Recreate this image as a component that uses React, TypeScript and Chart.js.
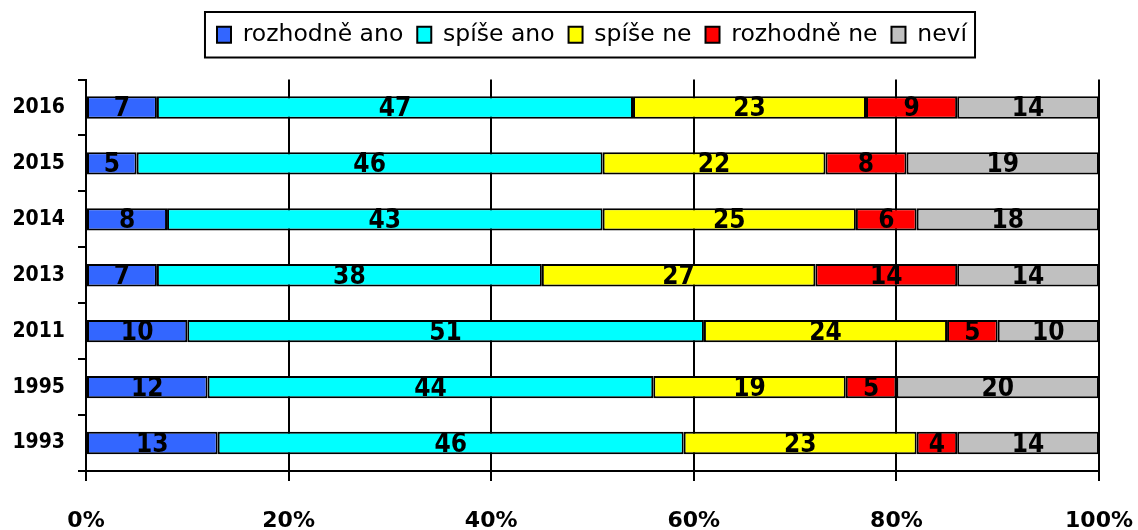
import React, { useEffect, useRef } from "react";
import { Chart, registerables } from "chart.js";

Chart.register(...registerables);

const years = ["2016", "2015", "2014", "2013", "2011", "1995", "1993"];
const seriesNames = ["rozhodně ano", "spíše ano", "spíše ne", "rozhodně ne", "neví"];
const rozhodneAno = [7, 5, 8, 7, 10, 12, 13];
const spiseAno = [47, 46, 43, 38, 51, 44, 46];
const spiseNe = [23, 22, 25, 27, 24, 19, 23];
const rozhodneNe = [9, 8, 6, 14, 5, 5, 4];
const nevi = [14, 19, 18, 14, 10, 20, 14];
const seriesColors = ["#3366FF", "#00FFFF", "#FFFF00", "#FF0000", "#C0C0C0"];
const xTicks = [0, 20, 40, 60, 80, 100];

const LEGEND_CENTER_X = 592;
const TOP_PAD = 32;
const LEGEND_LIFT = 23;

const labelPlugin = {
  id: "barLabels",
  afterDatasetsDraw(chart: any) {
    const ctx = chart.ctx;
    ctx.save();
    ctx.font = "bold 26px 'DejaVu Sans Condensed', 'DejaVu Sans'";
    ctx.fillStyle = "#000";
    ctx.textAlign = "center";
    ctx.textBaseline = "middle";
    chart.data.datasets.forEach((ds: any, di: number) => {
      const meta = chart.getDatasetMeta(di);
      meta.data.forEach((el: any, i: number) => {
        const v = ds.data[i];
        const cx = (el.x + el.base) / 2;
        ctx.fillText(String(v), cx, el.y + 2);
      });
    });
    ctx.restore();
  },
};

const legendPlugin = {
  id: "legendTweak",
  afterLayout(chart: any) {
    const lg = chart.legend;
    if (!lg) return;
    lg.top -= LEGEND_LIFT;
    lg.bottom -= LEGEND_LIFT;
    const curCenter = (lg.left + lg.right) / 2;
    const dx = LEGEND_CENTER_X - curCenter;
    lg.left += dx;
    lg.right += dx;
  },
  afterDraw(chart: any) {
    const lg = chart.legend;
    if (!lg || !lg.legendHitBoxes || !lg.legendHitBoxes.length) return;
    const hb = lg.legendHitBoxes;
    let l = Infinity, r = -Infinity, t = Infinity, b = -Infinity;
    hb.forEach((h: any) => {
      l = Math.min(l, h.left);
      r = Math.max(r, h.left + h.width);
      t = Math.min(t, h.top);
      b = Math.max(b, h.top + h.height);
    });
    const ctx = chart.ctx;
    ctx.save();
    ctx.strokeStyle = "#000";
    ctx.lineWidth = 2;
    ctx.strokeRect(l - 12, t - 11, r - l + 20, b - t + 22);
    ctx.restore();
  },
};

export default function App() {
  const ref = useRef<HTMLCanvasElement | null>(null);
  useEffect(() => {
    document.body.style.margin = "0";
    const values = [rozhodneAno, spiseAno, spiseNe, rozhodneNe, nevi];
    const chart = new Chart(ref.current as HTMLCanvasElement, {
      type: "bar",
      data: {
        labels: years,
        datasets: seriesNames.map((name, i) => ({
          label: name,
          data: values[i],
          backgroundColor: seriesColors[i],
          borderColor: "#000",
          borderWidth: 2,
          borderSkipped: false,
          categoryPercentage: 1,
          barPercentage: 0.4,
        })),
      },
      options: {
        indexAxis: "y",
        animation: false,
        responsive: true,
        maintainAspectRatio: false,
        layout: { padding: { top: TOP_PAD, left: 0, right: 39, bottom: 0 } },
        plugins: {
          legend: {
            position: "top",
            labels: {
              color: "#000",
              font: { family: "'DejaVu Sans'", size: 23.5 },
              boxWidth: 14,
              boxHeight: 16,
              padding: 14,
            },
          },
          tooltip: { enabled: false },
        },
        scales: {
          x: {
            stacked: true,
            min: 0,
            max: 100,
            afterBuildTicks: (s: any) => {
              s.ticks = xTicks.map((v) => ({ value: v }));
            },
            afterFit: (s: any) => {
              s.height = 59;
              s.paddingRight = 0;
              s.paddingLeft = 0;
            },
            ticks: {
              color: "#000",
              font: { family: "'DejaVu Sans'", size: 22, weight: "bold" },
              padding: 27,
              maxRotation: 0,
              callback: (v: any) => v + "%",
            },
            grid: { color: "#000", lineWidth: 2, tickLength: 10, drawOnChartArea: true },
            border: { display: true, color: "#000", width: 2 },
          },
          y: {
            stacked: true,
            afterFit: (s: any) => {
              s.width = 86;
            },
            ticks: {
              color: "#000",
              font: { family: "'DejaVu Sans Condensed', 'DejaVu Sans'", size: 21, weight: "bold" },
              padding: 13,
            },
            grid: { color: "#000", lineWidth: 2, tickLength: 8, drawOnChartArea: false, offset: true },
            border: { display: true, color: "#000", width: 2 },
          },
        },
      },
      plugins: [labelPlugin, legendPlugin],
    });
    return () => chart.destroy();
  }, []);
  return (
    <div style={{ width: 1138, height: 530, position: "relative" }}>
      <canvas ref={ref} />
    </div>
  );
}
